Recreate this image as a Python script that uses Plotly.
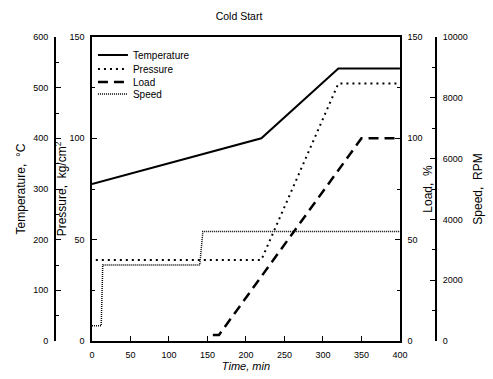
import plotly.graph_objects as go

# ---- data ----
temp_t = [0, 220, 320, 400]
temp_v = [310, 400, 538, 538]          # deg C

press_t = [5, 220, 320, 400]
press_v = [40, 40, 127, 127]           # kg/cm2

load_t = [157, 165, 350, 400]
load_v = [3, 3, 100, 100]              # %

speed_t = [0, 12, 14, 140, 144, 400]
speed_v = [500, 500, 2500, 2500, 3600, 3600]   # RPM

W, H = 493, 379
FONT = "Liberation Sans, Arial, sans-serif"
BLACK = "#000000"

fig = go.Figure()
fig.add_trace(go.Scatter(x=temp_t, y=temp_v, name="Temperature", yaxis="y2", mode="lines",
                         line=dict(color=BLACK, width=2), legend="legend", showlegend=True))
fig.add_trace(go.Scatter(x=press_t, y=press_v, name="Pressure", yaxis="y", mode="lines",
                         line=dict(color=BLACK, width=2, dash="2px,4px"), legend="legend2", showlegend=True))
fig.add_trace(go.Scatter(x=load_t, y=load_v, name="Load", yaxis="y3", mode="lines",
                         line=dict(color=BLACK, width=2.5, dash="10px,6px"), legend="legend3", showlegend=True))
fig.add_trace(go.Scatter(x=speed_t, y=speed_v, name="Speed", yaxis="y4", mode="lines",
                         line=dict(color=BLACK, width=1.5, dash="1px,1px"), legend="legend4", showlegend=True))

mt, mb = 37, H - 341
def py(p):
    return 1 - (p - mt) / (H - mt - mb)

tickfont = dict(family=FONT, size=9, color=BLACK)
titlefont = dict(family=FONT, size=12, color=BLACK)

def yax(**kw):
    d = dict(showgrid=False, zeroline=False, showline=True, linecolor=BLACK, linewidth=1.5,
             ticks="inside", ticklen=5, tickwidth=1.2, tickcolor=BLACK,
             tickfont=tickfont, ticklabelstandoff=4,
             minor=dict(ticks="inside", ticklen=3, tickwidth=1, tickcolor=BLACK))
    d.update(kw)
    return d

legend_common = dict(bgcolor="rgba(0,0,0,0)", borderwidth=0, xanchor="left", yanchor="middle",
                     font=dict(family=FONT, size=10, color=BLACK), x=92 / W, visible=True)

fig.update_layout(
    width=W, height=H,
    margin=dict(l=0, r=0, t=mt, b=mb),
    plot_bgcolor="white", paper_bgcolor="white",
    showlegend=True,
    title=dict(text="Cold Start", x=239 / W, xanchor="center", y=1 - 16 / H, yanchor="middle",
               font=dict(family=FONT, size=10.5, color=BLACK)),
    xaxis=dict(domain=[91 / W, 406 / W], range=[0, 400], dtick=50, showgrid=False, zeroline=False,
               showline=True, linecolor=BLACK, linewidth=1.5, mirror=True,
               ticks="inside", ticklen=5, tickwidth=1.2, tickcolor=BLACK,
               tickfont=tickfont, ticklabelstandoff=4,
               title=dict(text="<i>Time, min</i>", font=dict(family=FONT, size=11, color=BLACK), standoff=4)),
    yaxis=yax(range=[0, 150], dtick=50, anchor="x", side="left", minor_dtick=25,
              title=dict(text="Pressure,  kg/cm<sup>2</sup>", font=titlefont, standoff=0)),
    yaxis2=yax(range=[0, 600], dtick=100, overlaying="y", anchor="free", position=53 / W, side="left",
               minor_dtick=50,
               title=dict(text="Temperature,  °C", font=titlefont, standoff=4)),
    yaxis3=yax(range=[0, 150], dtick=50, overlaying="y", anchor="x", side="right", minor_dtick=25,
               title=dict(text="Load,  %", font=titlefont, standoff=2)),
    yaxis4=yax(range=[0, 10000], dtick=2000, overlaying="y", anchor="free", position=443 / W,
               side="right", minor_dtick=1000, tickformat="d",
               title=dict(text="Speed,  RPM", font=titlefont, standoff=6)),
    legend=dict(legend_common, y=py(55)),
    legend2=dict(legend_common, y=py(69)),
    legend3=dict(legend_common, y=py(82)),
    legend4=dict(legend_common, y=py(94)),
)

fig.write_html("out.html")
